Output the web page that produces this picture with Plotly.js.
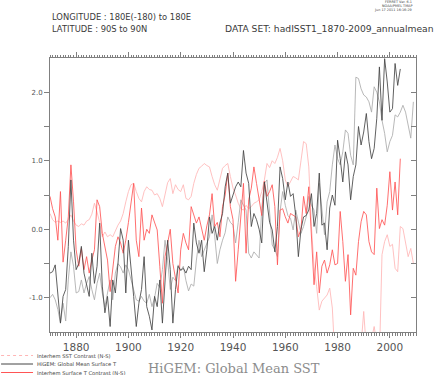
<!DOCTYPE html>
<html><head><meta charset="utf-8">
<script src="https://cdn.plot.ly/plotly-3.0.1.min.js"></script>
<style>html,body{margin:0;padding:0;background:#fff}#chart{width:440px;height:375px}</style>
</head><body><div id="chart"></div>
<script>
const firstYear = 1870;
// HiGEM / hadISST global mean (dark), 1870-2004
const darkSeries = [
-0.64,-0.62,-0.52,-0.93,-1.37,-0.98,-0.88,-0.25,0.72,-0.16,
-0.59,-0.50,-0.25,-0.64,-0.83,-0.98,-0.35,-0.79,-0.54,0.09,
-0.83,-1.22,-0.98,-1.42,-0.74,-0.93,-0.50,0.01,-0.16,-0.93,
-0.16,-0.54,-0.98,-1.42,-1.08,-0.88,-0.40,-1.13,-1.27,-1.47,
-0.98,-1.13,-0.74,-1.37,-0.74,-0.16,-0.59,-1.37,-0.88,-0.54,
-0.60,-0.57,-0.64,-0.54,-0.59,0.09,-0.20,-0.35,-0.16,-0.62,
-0.30,0.18,-0.06,0.04,-0.16,0.09,0.23,0.62,0.82,0.38,
0.50,0.62,0.69,0.62,1.15,0.82,0.67,0.04,0.23,0.14,
0.00,-0.20,0.69,0.43,0.10,-0.01,-0.33,0.04,0.91,0.74,
0.43,0.69,0.48,0.52,0.20,-0.40,0.00,0.18,0.20,0.28,
0.52,0.04,0.23,0.82,0.06,0.09,-0.30,0.31,0.50,0.35,
1.30,1.03,0.69,1.13,0.94,0.43,0.77,0.94,1.50,1.23,
1.42,1.69,1.28,1.03,1.18,1.62,2.37,1.59,2.49,2.15,
1.71,1.76,2.42,2.10,2.34];
// HiGEM: Global Mean Surface T (light gray), 1870-2009
const greySeries = [
-1.00,-0.95,-1.03,-1.17,-1.37,-1.08,-1.34,-0.74,-0.33,-0.54,
-0.93,-0.91,-0.74,-0.93,-0.79,-0.69,-0.88,-1.03,-0.79,-0.64,
-0.93,-1.13,-0.93,-0.74,-1.03,-0.64,-0.50,-0.55,-0.64,-0.52,
-0.59,-0.74,-0.88,-1.03,-1.05,-0.98,-1.05,-1.08,-0.95,-1.13,
-1.00,-0.79,-0.85,-0.59,-0.16,-0.45,-0.88,-0.70,-0.75,-0.52,
-0.60,-0.54,-0.75,-0.90,-0.80,-0.83,-0.45,-0.16,-0.40,-0.30,
-0.20,-0.11,0.21,-0.10,-0.50,-0.30,-0.16,-0.05,0.18,0.10,
0.06,-0.20,0.10,0.43,0.35,0.28,-0.35,-0.42,-0.33,-0.38,
-0.42,0.30,0.67,0.72,0.20,-0.23,-0.30,-0.40,0.26,0.55,
0.35,0.20,0.16,-0.01,0.28,0.10,-0.06,0.04,0.18,0.48,
0.35,0.28,-0.06,0.67,0.28,-0.08,0.40,0.55,0.94,1.23,
1.03,0.94,1.13,1.45,1.40,1.08,0.94,2.22,2.20,2.05,
1.96,1.93,1.86,1.71,2.08,2.00,1.86,1.59,1.40,1.13,
1.28,1.37,1.67,1.64,1.71,1.81,1.71,1.52,1.33,1.86];
// Interhem Surface T Contrast (N-S) (red), 1870-2004
const redSeries = [
0.48,0.30,0.18,-0.16,0.55,-0.48,-0.16,0.18,0.94,0.40,
-0.30,-0.54,-0.28,-0.59,-0.40,-0.64,-0.45,-0.30,0.43,0.33,
-0.06,-0.23,-0.45,-0.91,-0.59,-0.25,-0.11,-0.20,-0.35,-0.16,
0.10,0.43,0.67,-0.16,-0.40,0.31,-0.16,0.00,-0.06,0.21,
0.10,-0.01,-0.54,-1.08,-0.40,-0.20,0.00,-0.50,-0.70,-0.93,
-0.30,-0.06,-0.20,-0.30,0.33,0.20,0.09,0.18,0.00,-0.16,
0.05,0.21,0.52,0.04,0.10,-0.11,0.33,0.50,0.82,0.33,
0.14,-0.76,-0.30,0.20,0.67,-0.35,0.43,0.60,0.91,0.67,
0.45,0.20,0.70,0.48,0.55,0.65,0.33,-0.52,0.28,0.30,
0.18,0.09,0.23,0.20,0.18,-0.11,0.00,0.48,0.23,0.62,
-0.11,-0.81,-0.33,-0.93,-0.54,-0.45,-0.64,-0.52,-0.30,-0.52,
-0.50,0.26,-0.18,-0.76,-0.37,-1.25,-0.57,-0.67,-0.18,0.11,
0.26,0.21,-0.18,-0.33,-0.37,0.60,0.01,0.14,0.06,0.35,
0.84,0.28,0.69,0.21,1.03];
// Interhem SST Contrast (N-S) (pink), 1870-2009
const pinkSeries = [
0.23,0.14,0.10,0.12,0.10,0.12,0.09,0.14,0.21,0.12,
0.06,0.04,0.08,0.06,0.12,0.14,0.22,0.38,0.25,0.10,
-0.11,-0.04,-0.11,-0.08,-0.11,-0.02,0.06,0.12,0.23,0.40,
0.55,0.65,0.67,0.55,0.45,0.40,0.55,0.62,0.58,0.57,
0.50,0.52,0.45,0.33,0.50,0.68,0.74,0.52,0.65,0.58,
0.55,0.65,0.45,0.43,0.48,0.67,0.80,0.89,0.92,0.96,
0.93,0.91,0.77,0.65,0.57,0.75,0.89,0.93,0.96,0.77,
0.60,0.50,0.38,0.30,0.28,0.35,0.30,0.33,0.38,0.40,
0.43,0.55,0.72,0.96,0.90,1.00,0.96,1.05,1.18,1.00,
0.72,0.62,0.70,0.77,0.75,0.72,1.00,1.28,1.25,0.91,
0.04,-0.54,-0.84,-1.18,-1.05,-1.00,-0.96,-0.86,-1.15,-1.90,
-2.00,-1.90,-2.10,-1.80,-2.00,-2.20,-1.90,-2.00,-1.80,-1.70,
-1.20,-1.75,-1.90,-1.60,-1.42,-1.70,-1.90,-0.37,-0.18,-0.08,
-0.25,-0.22,-0.57,-0.62,0.04,0.01,-0.18,-0.40,-0.28,-0.50];

const xTickVals = [1880,1900,1920,1940,1960,1980,2000];
const xTickText = ['1880','1900','1920','1940','1960','1980','2000'];
const yTickVals = [-1.0,-0.5,0.0,0.5,1.0,1.5,2.0];
const yTickText = ['-1.0','','0.0','','1.0','','2.0'];
const legendNames = ['Interhem SST Contrast (N-S)','HiGEM: Global Mean Surface T','Interhem Surface T Contrast (N-S)'];

function yearsOf(arr){ return arr.map((_, i) => firstYear + i); }

const C = {dark:'#454545', grey:'#ababab', red:'#ff5555', pink:'#ffb6b6'};
const LW = 0.85;
const traces = [
  {x: yearsOf(pinkSeries), y: pinkSeries, mode:'lines', line:{color:C.pink, width:LW}},
  {x: yearsOf(greySeries), y: greySeries, mode:'lines', line:{color:C.grey, width:LW}},
  {x: yearsOf(redSeries), y: redSeries, mode:'lines', line:{color:C.red, width:LW}},
  {x: yearsOf(darkSeries), y: darkSeries, mode:'lines', line:{color:C.dark, width:LW}},
  {x: [], y: [], yaxis:'y2', mode:'lines'}
].map(t => Object.assign({showlegend:false, hoverinfo:'skip'}, t));

const W = 440, H = 375, L = 50, R = 23.5, T = 58, B = 43;
const pw = W - L - R, ph = H - T - B;
const px = v => (v - L) / pw;          // pixel x -> paper x
const py = v => (H - B - v) / ph;      // pixel y -> paper y

const axisCol = '#808080';
const shapes = [];
const annotations = [];
const legendCols = [C.pink, C.dark, C.red];
const legendY = [355.5, 364, 372.5];
legendNames.forEach((name, i) => {
  shapes.push({type:'line', xref:'paper', yref:'paper', x0:px(1), x1:px(33), y0:py(legendY[i]), y1:py(legendY[i]),
    line:{color:legendCols[i], width:1, dash: i===0 ? 'dot' : 'solid'}});
  annotations.push({xref:'paper', yref:'paper', x:px(35), y:py(legendY[i]), xanchor:'left', yanchor:'middle',
    text:name, showarrow:false, font:{family:'DejaVu Sans', size:5.2, color:'#444'}});
});
const hdr = {family:'DejaVu Sans', size:8.4, color:'#3a3a3a'};
const tiny = {family:'DejaVu Sans', size:3.4, color:'#444'};
annotations.push(
  {xref:'paper', yref:'paper', x:px(50), y:py(17), xanchor:'left', yanchor:'middle', showarrow:false, text:'LONGITUDE : 180E(-180) to 180E', font:hdr},
  {xref:'paper', yref:'paper', x:px(50), y:py(29), xanchor:'left', yanchor:'middle', showarrow:false, text:'LATITUDE : 90S to 90N', font:hdr},
  {xref:'paper', yref:'paper', x:px(437), y:py(29), xanchor:'right', yanchor:'middle', showarrow:false, text:'DATA SET: hadISST1_1870-2009_annualmean', font:{family:'DejaVu Sans', size:9.2, color:'#3a3a3a'}},
  {xref:'paper', yref:'paper', x:px(414), y:py(2.4), xanchor:'right', yanchor:'middle', showarrow:false, text:'FERRET Ver. 6.1', font:tiny},
  {xref:'paper', yref:'paper', x:px(414), y:py(6.3), xanchor:'right', yanchor:'middle', showarrow:false, text:'NOAA/PMEL TMAP', font:tiny},
  {xref:'paper', yref:'paper', x:px(414), y:py(10.2), xanchor:'right', yanchor:'middle', showarrow:false, text:'Jun 17 2011 16:16:29', font:tiny},
  {xref:'paper', yref:'paper', x:px(234), y:py(368), xanchor:'center', yanchor:'middle', showarrow:false, text:'HiGEM: Global Mean SST', font:{family:'DejaVu Serif', size:13, color:'#8c8c8c'}}
);

const layout = {
  width: W, height: H,
  margin: {l:L, r:R, t:T, b:B, pad:0},
  paper_bgcolor:'#fff', plot_bgcolor:'#fff',
  showlegend:false,
  xaxis: {
    range:[1870, 2010], tickmode:'array', tickvals:xTickVals, ticktext:xTickText,
    ticks:'outside', ticklen:5, tickwidth:1, tickcolor:axisCol,
    showline:true, linecolor:axisCol, linewidth:1, mirror:'ticks',
    showgrid:false, zeroline:false,
    minor:{tickmode:'linear', tick0:1870, dtick:1, ticks:'outside', ticklen:2.5, tickcolor:axisCol, showgrid:false},
    tickfont:{family:'DejaVu Sans', size:10.5, color:'#555'}
  },
  yaxis: {
    range:[-1.5, 2.5], tickmode:'array', tickvals:yTickVals, ticktext:yTickText,
    ticks:'outside', ticklen:5, tickwidth:1, tickcolor:axisCol,
    showline:true, linecolor:axisCol, linewidth:1,
    showgrid:false, zeroline:false,
    tickfont:{family:'DejaVu Sans', size:7, color:'#555'}
  },
  yaxis2: {
    overlaying:'y', side:'right', range:[-1.5, 2.5], tickmode:'array', tickvals:yTickVals,
    ticks:'inside', ticklen:5, tickcolor:axisCol, showticklabels:false,
    showline:true, linecolor:axisCol, linewidth:1, showgrid:false, zeroline:false
  },
  shapes: shapes,
  annotations: annotations
};

Plotly.newPlot('chart', traces, layout, {staticPlot:true, displayModeBar:false});
</script>
</body></html>
